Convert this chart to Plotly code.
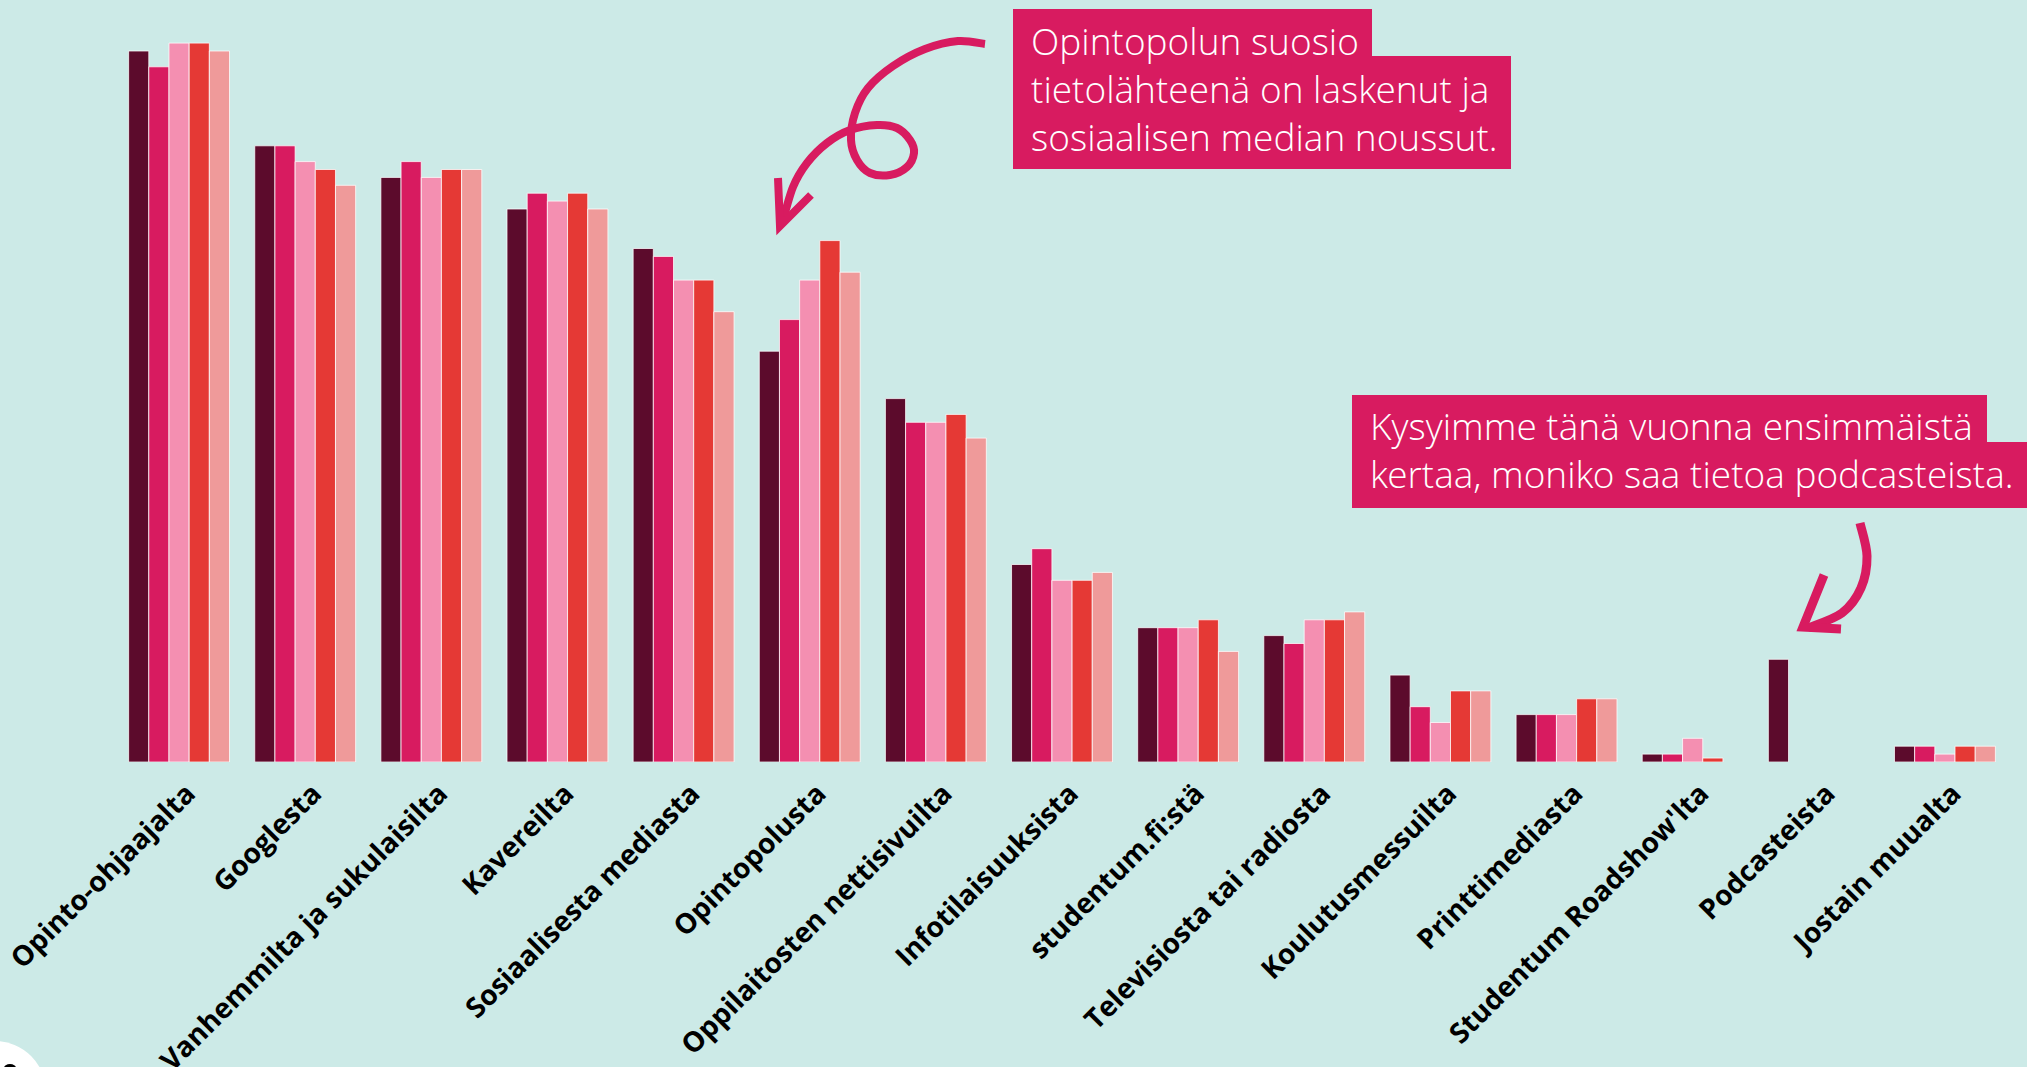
import plotly.graph_objects as go

# ---------------- data ----------------
categories = [
    "Opinto-ohjaajalta", "Googlesta", "Vanhemmilta ja sukulaisilta", "Kavereilta",
    "Sosiaalisesta mediasta", "Opintopolusta", "Oppilaitosten nettisivuilta",
    "Infotilaisuuksista", "studentum.fi:stä", "Televisiosta tai radiosta",
    "Koulutusmessuilta", "Printtimediasta", "Studentum Roadshow'lta",
    "Podcasteista", "Jostain muualta",
]
series_names = ["Sarja 1", "Sarja 2", "Sarja 3", "Sarja 4", "Sarja 5"]
s1 = [90, 78, 74, 70, 65, 52, 46, 25, 17, 16, 11, 6, 1, 13, 2]
s2 = [88, 78, 76, 72, 64, 56, 43, 27, 17, 15, 7, 6, 1, None, 2]
s3 = [91, 76, 74, 71, 61, 61, 43, 23, 17, 18, 5, 6, 3, None, 1]
s4 = [91, 75, 75, 72, 61, 66, 44, 23, 18, 18, 9, 8, 0.5, None, 2]
s5 = [90, 73, 75, 70, 57, 62, 41, 24, 14, 19, 9, 8, None, None, 2]
series_values = [s1, s2, s3, s4, s5]
colors = ["#5c0b2c", "#d81b60", "#f48fb1", "#e53935", "#ef9a9a"]

note1 = "Opintopolun suosio<br>tietolähteenä on laskenut ja<br>sosiaalisen median noussut."
note2 = "Kysyimme tänä vuonna ensimmäistä<br>kertaa, moniko saa tietoa podcasteista."

# ---------------- layout geometry ----------------
W, H = 2027, 1067
L, R, T, B = 116, 19, 20, 305
pw, ph = W - L - R, H - T - B
BG = "#cceae7"
PINK = "#d81b60"
n_cat = len(categories)
label_shift = 8 / (pw / n_cat)   # tick labels sit ~8 px right of the group centres


def px(x):
    return (x - L) / pw


def py(y):
    return (H - B - y) / ph


def smooth_path(pts):
    d = "M{:.5f},{:.5f}".format(px(pts[0][0]), py(pts[0][1]))
    n = len(pts)
    for i in range(n - 1):
        p0 = pts[i - 1] if i > 0 else pts[i]
        p1 = pts[i]
        p2 = pts[i + 1]
        p3 = pts[i + 2] if i + 2 < n else pts[i + 1]
        c1 = (p1[0] + (p2[0] - p0[0]) / 6, p1[1] + (p2[1] - p0[1]) / 6)
        c2 = (p2[0] - (p3[0] - p1[0]) / 6, p2[1] - (p3[1] - p1[1]) / 6)
        d += " C{:.5f},{:.5f} {:.5f},{:.5f} {:.5f},{:.5f}".format(
            px(c1[0]), py(c1[1]), px(c2[0]), py(c2[1]), px(p2[0]), py(p2[1]))
    return d


def poly_path(pts, close=False):
    d = "M" + " L".join("{:.5f},{:.5f}".format(px(x), py(y)) for x, y in pts)
    return d + (" Z" if close else "")


fig = go.Figure()
for name, vals, col in zip(series_names, series_values, colors):
    fig.add_trace(go.Bar(
        x=categories, y=vals, name=name,
        marker=dict(color=col, line=dict(color="rgba(255,255,255,0.75)", width=1)),
        hoverinfo="x+y",
    ))

# invisible helper trace that carries the (slightly offset) category labels axis
fig.add_trace(go.Scatter(
    x=list(range(n_cat)), y=[0] * n_cat, xaxis="x2", yaxis="y",
    mode="markers", marker=dict(opacity=0, size=1), hoverinfo="skip", showlegend=False,
))

shapes = []
# note boxes (stepped highlight)
for (x0, y0, x1, y1) in [(1013, 9, 1372, 57), (1013, 56, 1511, 169),
                         (1352, 395, 1987, 443), (1352, 442, 2030, 508)]:
    shapes.append(dict(type="rect", xref="paper", yref="paper",
                       x0=px(x0), x1=px(x1), y0=py(y1), y1=py(y0),
                       fillcolor=PINK, line=dict(width=0), layer="above"))

# curly arrow 1
arrow1 = [(985, 44), (958, 41), (925, 49), (893, 66), (868, 88), (855, 113),
          (851, 140), (857, 160), (870, 173), (890, 175), (907, 167), (914, 153),
          (910, 140), (897, 128), (877, 125), (850, 130), (827, 143), (807, 163),
          (793, 187), (782, 224)]
shapes.append(dict(type="path", xref="paper", yref="paper", path=smooth_path(arrow1),
                   line=dict(color=PINK, width=8), layer="above"))
shapes.append(dict(type="path", xref="paper", yref="paper",
                   path=poly_path([(778, 178), (780, 226), (811, 195)]),
                   line=dict(color=PINK, width=8), layer="above"))

# arrow 2
arrow2 = [(1860, 523), (1867, 556), (1861, 588), (1842, 613), (1808, 628)]
shapes.append(dict(type="path", xref="paper", yref="paper", path=smooth_path(arrow2),
                   line=dict(color=PINK, width=9), layer="above"))
shapes.append(dict(type="path", xref="paper", yref="paper",
                   path=poly_path([(1824, 575), (1803, 627), (1841, 629)]),
                   line=dict(color=PINK, width=9), layer="above"))

# white logo circle bottom-left
shapes.append(dict(type="circle", xref="paper", yref="paper",
                   x0=px(-56), x1=px(46), y0=py(1143), y1=py(1041),
                   fillcolor="white", line=dict(width=0), layer="above"))
shapes.append(dict(type="circle", xref="paper", yref="paper",
                   x0=px(4), x1=px(16), y0=py(1072), y1=py(1064),
                   fillcolor="black", line=dict(width=0), layer="above"))

note_font = dict(family="Open Sans Light, Open Sans", size=37, color="white", weight=300)
annotations = [
    dict(xref="paper", yref="paper", x=px(1030), y=py(14), xanchor="left", yanchor="top",
         align="left", text=note1, showarrow=False, font=note_font, borderpad=0),
    dict(xref="paper", yref="paper", x=px(1369), y=py(399), xanchor="left", yanchor="top",
         align="left", text=note2, showarrow=False, font=note_font, borderpad=0),
]

fig.update_layout(
    width=W, height=H,
    margin=dict(l=L, r=R, t=T, b=B, autoexpand=False),
    paper_bgcolor=BG, plot_bgcolor=BG,
    barmode="group", bargap=0.2, bargroupgap=0.0,
    showlegend=False,
    shapes=shapes, annotations=annotations,
    xaxis=dict(type="category", range=[-0.5, n_cat - 0.5],
               showticklabels=False, showline=False, showgrid=False, ticks="",
               fixedrange=True),
    xaxis2=dict(overlaying="x", anchor="y", side="bottom", type="linear",
                range=[-0.5 - label_shift, n_cat - 0.5 - label_shift],
                tickmode="array", tickvals=list(range(n_cat)), ticktext=categories,
                tickangle=-45, showline=False, showgrid=False, zeroline=False,
                ticks="outside", ticklen=3, tickcolor="rgba(0,0,0,0)",
                tickfont=dict(family="Open Sans", size=28, color="black", weight="bold"),
                fixedrange=True),
    yaxis=dict(range=[0, ph / 7.9], visible=False, showgrid=False, fixedrange=True),
)

fig.write_html(
    "out.html",
    config={"displayModeBar": False},
    post_script="document.body.style.margin='0';document.body.style.overflow='hidden';",
)
